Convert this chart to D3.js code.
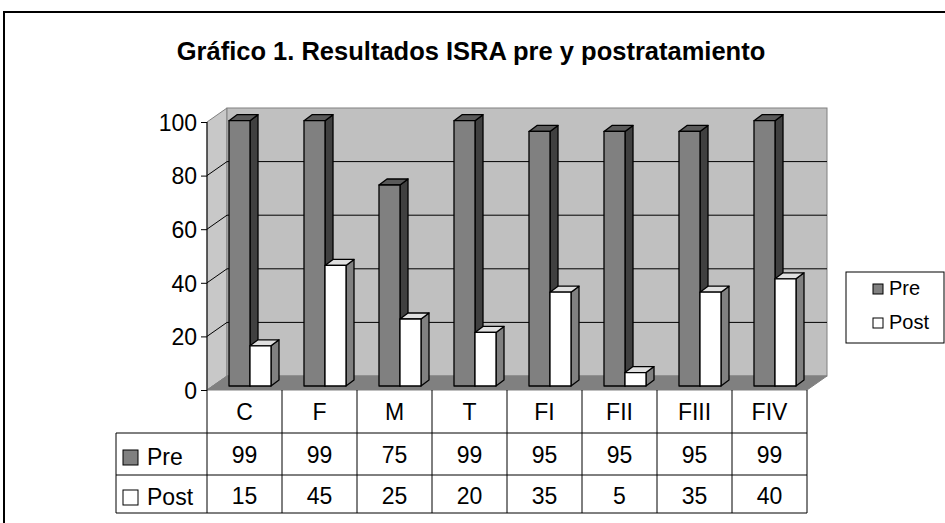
<!DOCTYPE html>
<html><head><meta charset="utf-8">
<script src="https://cdn.jsdelivr.net/npm/d3@7"></script>
<style>body{margin:0;background:#fff}svg{display:block}text{font-family:Arial,"Liberation Sans",sans-serif}</style>
</head><body>
<svg id="c" width="945" height="523"></svg>
<script>
const title = "Gráfico 1. Resultados ISRA pre y postratamiento";
const categories = ["C","F","M","T","FI","FII","FIII","FIV"];
const seriesNames = ["Pre","Post"];
const preValues = [99,99,75,99,95,95,95,99];
const postValues = [15,45,25,20,35,5,35,40];
const yTicks = [0,20,40,60,80,100];

const svg = d3.select("#c");
const DX = 20, DY = 14;       // wall depth
const bdx = 8, bdy = 6;       // bar depth
const frontLeft = 207, frontRight = 807;
const x = d3.scaleBand().domain(categories).range([frontLeft, frontRight]);
const yAxis = d3.scaleLinear().domain([0,100]).range([390,122]);
const yBar = d3.scaleLinear().domain([0,100]).range([386,118]);
const yBack = v => yAxis(v) - DY;

// outer frame
svg.append("rect").attr("x",4).attr("y",12).attr("width",980).attr("height",540)
  .attr("fill","#fff").attr("stroke","#000").attr("stroke-width",2);

// title
svg.append("text").attr("x",471).attr("y",60).attr("text-anchor","middle")
  .attr("font-size",25.5).attr("font-weight","bold").text(title);

// left wall
const wallL = frontLeft, wallBR = frontRight + DX;
svg.append("polygon").attr("points",[[wallL,yAxis(100)],[wallL+DX,yBack(100)],[wallL+DX,yBack(0)],[wallL,yAxis(0)]].join(" "))
  .attr("fill","#c8c8c8").attr("stroke","#808080");
// back wall
svg.append("rect").attr("x",wallL+DX).attr("y",yBack(100)).attr("width",wallBR-(wallL+DX)).attr("height",yBack(0)-yBack(100))
  .attr("fill","#c0c0c0").attr("stroke","#808080");
// floor
svg.append("polygon").attr("points",[[wallL,yAxis(0)],[wallL+DX,yBack(0)],[wallBR,yBack(0)],[frontRight,yAxis(0)]].join(" "))
  .attr("fill","#808080").attr("stroke","#808080");

// gridlines
yTicks.filter(v=>v>0&&v<100).forEach(v=>{
  svg.append("line").attr("x1",wallL+DX).attr("x2",wallBR).attr("y1",yBack(v)).attr("y2",yBack(v)).attr("stroke","#000");
  svg.append("line").attr("x1",wallL).attr("x2",wallL+DX).attr("y1",yAxis(v)).attr("y2",yBack(v)).attr("stroke","#000");
});

// axis
const ax = svg.append("g").attr("transform",`translate(${wallL},0)`)
  .call(d3.axisLeft(yAxis).tickValues(yTicks).tickSize(6).tickPadding(4));
ax.select(".domain").attr("stroke","#000").attr("d",`M0,${yAxis(100)}V${yAxis(0)}`);
ax.selectAll(".tick line").attr("stroke","#000");
ax.selectAll(".tick text").attr("font-size",23).attr("font-family","Arial,'Liberation Sans',sans-serif").attr("fill","#000").attr("dy","0.36em");

// bars
const bw = 21;
const styles = [
  {front:"#808080", top:"#5a5a5a", side:"#404040", off:22},
  {front:"#ffffff", top:"#e0e0e0", side:"#808080", off:43}
];
const base = yBar(0);
categories.forEach((c,i)=>{
  [preValues[i], postValues[i]].forEach((v,s)=>{
    const st = styles[s];
    const x0 = x(c) + st.off, x1 = x0 + bw, yt = yBar(v);
    const g = svg.append("g").attr("stroke","#000").attr("stroke-width",1.3).attr("stroke-linejoin","round");
    g.append("polygon").attr("points",[[x1,yt],[x1+bdx,yt-bdy],[x1+bdx,base-bdy],[x1,base]].join(" ")).attr("fill",st.side);
    g.append("polygon").attr("points",[[x0,yt],[x0+bdx,yt-bdy],[x1+bdx,yt-bdy],[x1,yt]].join(" ")).attr("fill",st.top);
    g.append("rect").attr("x",x0).attr("y",yt).attr("width",bw).attr("height",base-yt).attr("fill",st.front);
  });
});

// data table
const rowY = [390,433,475,513];
const tableLeft = 116;
const tg = svg.append("g").attr("stroke","#000").attr("stroke-width",1);
tg.append("line").attr("x1",frontLeft).attr("x2",frontLeft).attr("y1",rowY[0]).attr("y2",rowY[3]);
categories.forEach(c=>{
  tg.append("line").attr("x1",x(c)+x.bandwidth()).attr("x2",x(c)+x.bandwidth()).attr("y1",rowY[0]).attr("y2",rowY[3]);
});
[1,2,3].forEach(k=>{
  tg.append("line").attr("x1",tableLeft).attr("x2",frontRight).attr("y1",rowY[k]).attr("y2",rowY[k]);
});
tg.append("line").attr("x1",tableLeft).attr("x2",tableLeft).attr("y1",rowY[1]).attr("y2",rowY[3]);

categories.forEach((c,i)=>{
  const cx = x(c)+x.bandwidth()/2;
  svg.append("text").attr("x",cx).attr("y",420).attr("text-anchor","middle").attr("font-size",23).text(c);
  svg.append("text").attr("x",cx).attr("y",463).attr("text-anchor","middle").attr("font-size",23).text(preValues[i]);
  svg.append("text").attr("x",cx).attr("y",504).attr("text-anchor","middle").attr("font-size",23).text(postValues[i]);
});
const swFill = ["#808080","#ffffff"];
seriesNames.forEach((n,s)=>{
  const yb = [465,505][s];
  svg.append("rect").attr("x",123).attr("y",yb-15).attr("width",15).attr("height",15).attr("fill",swFill[s]).attr("stroke","#000");
  svg.append("text").attr("x",147).attr("y",yb).attr("font-size",23).text(n);
});

// legend
svg.append("rect").attr("x",846).attr("y",272).attr("width",98).attr("height",71).attr("fill","#fff").attr("stroke","#000");
seriesNames.forEach((n,s)=>{
  const yb = [295,329][s];
  svg.append("rect").attr("x",873).attr("y",yb-11).attr("width",10).attr("height",10).attr("fill",swFill[s]).attr("stroke","#000");
  svg.append("text").attr("x",889).attr("y",yb).attr("font-size",20).text(n);
});
</script>
</body></html>
